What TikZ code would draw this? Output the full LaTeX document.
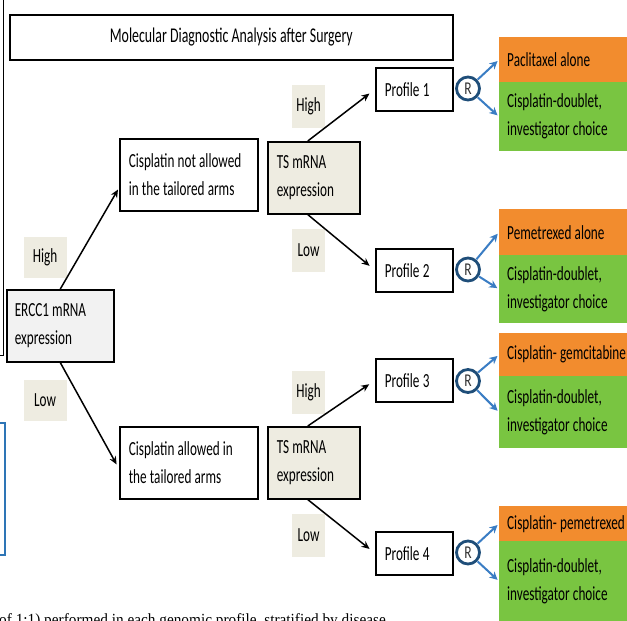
\documentclass[tikz,border=0pt]{standalone}
\usepackage{fontspec}
\setmainfont{Carlito}[FakeStretch=0.66, WordSpace=0.7]
\newfontfamily\capfont{Liberation Serif}[FakeStretch=0.9]
\newfontfamily\rfont{Carlito}[FakeStretch=0.75]
\usetikzlibrary{arrows.meta}
\definecolor{orangebox}{HTML}{F28C2E}
\definecolor{greenbox}{HTML}{79C541}
\definecolor{tan}{HTML}{EEECE1}
\definecolor{lightgray}{HTML}{F2F2F2}
\definecolor{rblue}{HTML}{1F4E79}
\definecolor{ablue}{HTML}{3A7DC4}
\definecolor{frameblue}{HTML}{2E75B6}
\tikzset{
  txt/.style={font=\fontsize{20}{28}\selectfont, align=left, inner sep=0pt,
    execute at begin node={\spaceskip=3.2pt plus 1pt minus 0.5pt\relax}},
  box/.style={txt, draw=black, line width=1.6pt, anchor=north west},
  tsbox/.style={box, fill=tan},
  lab/.style={font=\fontsize{20}{28}\selectfont, fill=tan, inner sep=0pt},
  arm/.style={txt, anchor=north west, minimum width=200pt, text width=184pt},
  rcirc/.style={shape=circle, minimum width=26pt, minimum height=26pt, inner sep=0pt, text=black!80, font=\rfont\fontsize{18}{20}\selectfont},
  ring/.style={draw=rblue, line width=2.8pt},
  blk/.style={line width=1.5pt, -{Stealth[length=8pt,width=7pt]}},
  blu/.style={draw=ablue, line width=2pt, -{Stealth[length=8pt,width=8pt]}, shorten >=2pt}
}
\begin{document}
\begin{tikzpicture}[x=1pt,y=-1pt]
\useasboundingbox (0,0) rectangle (627,621);
\clip (0,0) rectangle (627,621);
\fill[white] (0,0) rectangle (627,621);
% partial frames at the left edge
\draw[line width=1pt] (3.5,-2) -- (3.5,355) -- (-2,355);
\draw[frameblue, line width=1.2pt] (-2,423) -- (5,423) -- (5,555) -- (-2,555);
% title
\node[box, minimum width=443pt, minimum height=45pt, align=center, font=\fontsize{21}{28}\selectfont] (title) at (9,14) {\raisebox{-2pt}{Molecular Diagnostic Analysis after Surgery}};
% ERCC1
\node[box, fill=lightgray, minimum width=107pt, minimum height=72pt, text width=91pt] (ercc) at (6,289) {ERCC1 mRNA\\expression};
\node[lab, minimum width=43pt, minimum height=41pt] (hiE) at (45,257.5) {High};
\node[lab, minimum width=43pt, minimum height=41pt] (loE) at (45,400) {Low};
% cisplatin boxes
\node[box, minimum width=138pt, minimum height=72pt, text width=120pt] (cis1) at (119,138) {Cisplatin not allowed\\in the tailored arms};
\node[box, minimum width=138pt, minimum height=72pt, text width=120pt] (cis2) at (119,426) {Cisplatin allowed in\\the tailored arms};
% TS boxes
\node[tsbox, minimum width=92pt, minimum height=72pt, text width=74pt] (ts1) at (267,141) {TS mRNA\\expression};
\node[tsbox, minimum width=92pt, minimum height=72pt, text width=74pt] (ts2) at (267,426) {TS mRNA\\expression};
\node[lab, minimum width=33pt, minimum height=43pt] (hi1) at (308.5,106.5) {High};
\node[lab, minimum width=33pt, minimum height=43pt] (lo1) at (308.5,250) {Low};
\node[lab, minimum width=33pt, minimum height=43pt] (hi2) at (308.5,392) {High};
\node[lab, minimum width=33pt, minimum height=43pt] (lo2) at (308.5,535) {Low};
% profiles
\node[box, minimum width=77pt, minimum height=43pt, text width=59pt] (p1) at (375,67) {Profile 1};
\node[box, minimum width=77pt, minimum height=43pt, text width=59pt] (p2) at (375,248) {Profile 2};
\node[box, minimum width=77pt, minimum height=43pt, text width=59pt] (p3) at (375,358) {Profile 3};
\node[box, minimum width=77pt, minimum height=43pt, text width=59pt] (p4) at (375,531) {Profile 4};
% randomisation circles
\node[rcirc] (r1) at (468,88.5) {R};
\node[rcirc] (r2) at (468,269.5) {R};
\node[rcirc] (r3) at (468,381) {R};
\node[rcirc] (r4) at (468,552.5) {R};
\foreach \r in {r1,r2,r3,r4} \draw[ring] (\r.center) circle[radius=11.5pt];
% treatment arms
\node[arm, fill=orangebox, minimum height=45pt] (o1) at (499,37) {Paclitaxel alone};
\node[arm, fill=greenbox, minimum height=69pt] (g1) at (499,82) {Cisplatin-doublet,\\investigator choice};
\node[arm, fill=orangebox, minimum height=46pt] (o2) at (499,209) {Pemetrexed alone};
\node[arm, fill=greenbox, minimum height=68pt] (g2) at (499,255) {Cisplatin-doublet,\\investigator choice};
\node[arm, fill=orangebox, minimum height=43pt] (o3) at (499,333) {Cisplatin- gemcitabine};
\node[arm, fill=greenbox, minimum height=72pt] (g3) at (499,376) {Cisplatin-doublet,\\investigator choice};
\node[arm, fill=orangebox, minimum height=35pt] (o4) at (499,506) {Cisplatin- pemetrexed};
\node[arm, fill=greenbox, minimum height=80pt] (g4) at (499,541) {Cisplatin-doublet,\\investigator choice};
% black connectors
\draw[blk, shorten >=2pt] (ercc.north) -- ([yshift=-13pt]cis1.west);
\draw[blk, shorten >=5pt] (ercc.south) -- ([yshift=-6pt]cis2.west);
\draw[blk, shorten >=7pt] ([xshift=-6pt]ts1.north) -- (p1.west);
\draw[blk, shorten >=7pt] ([xshift=-6pt]ts1.south) -- (p2.west);
\draw[blk, shorten >=7pt] ([xshift=-6pt]ts2.north) -- (p3.west);
\draw[blk, shorten >=7pt] ([xshift=-6pt]ts2.south) -- (p4.west);
% blue connectors
\draw[blu] (r1) -- (o1.west);
\draw[blu] (r1) -- (g1.west);
\draw[blu] (r2) -- (o2.west);
\draw[blu] (r2) -- (g2.west);
\draw[blu] (r3) -- (o3.west);
\draw[blu] (r3) -- (g3.west);
\draw[blu] (r4) -- (o4.west);
\draw[blu] (r4) -- (g4.west);
% cut caption line
\node[anchor=base west, inner sep=0pt, font=\capfont\fontsize{17}{20}\selectfont] (cap) at (-1,625) {of 1:1) performed in each genomic profile, stratified by disease};
\end{tikzpicture}
\end{document}
